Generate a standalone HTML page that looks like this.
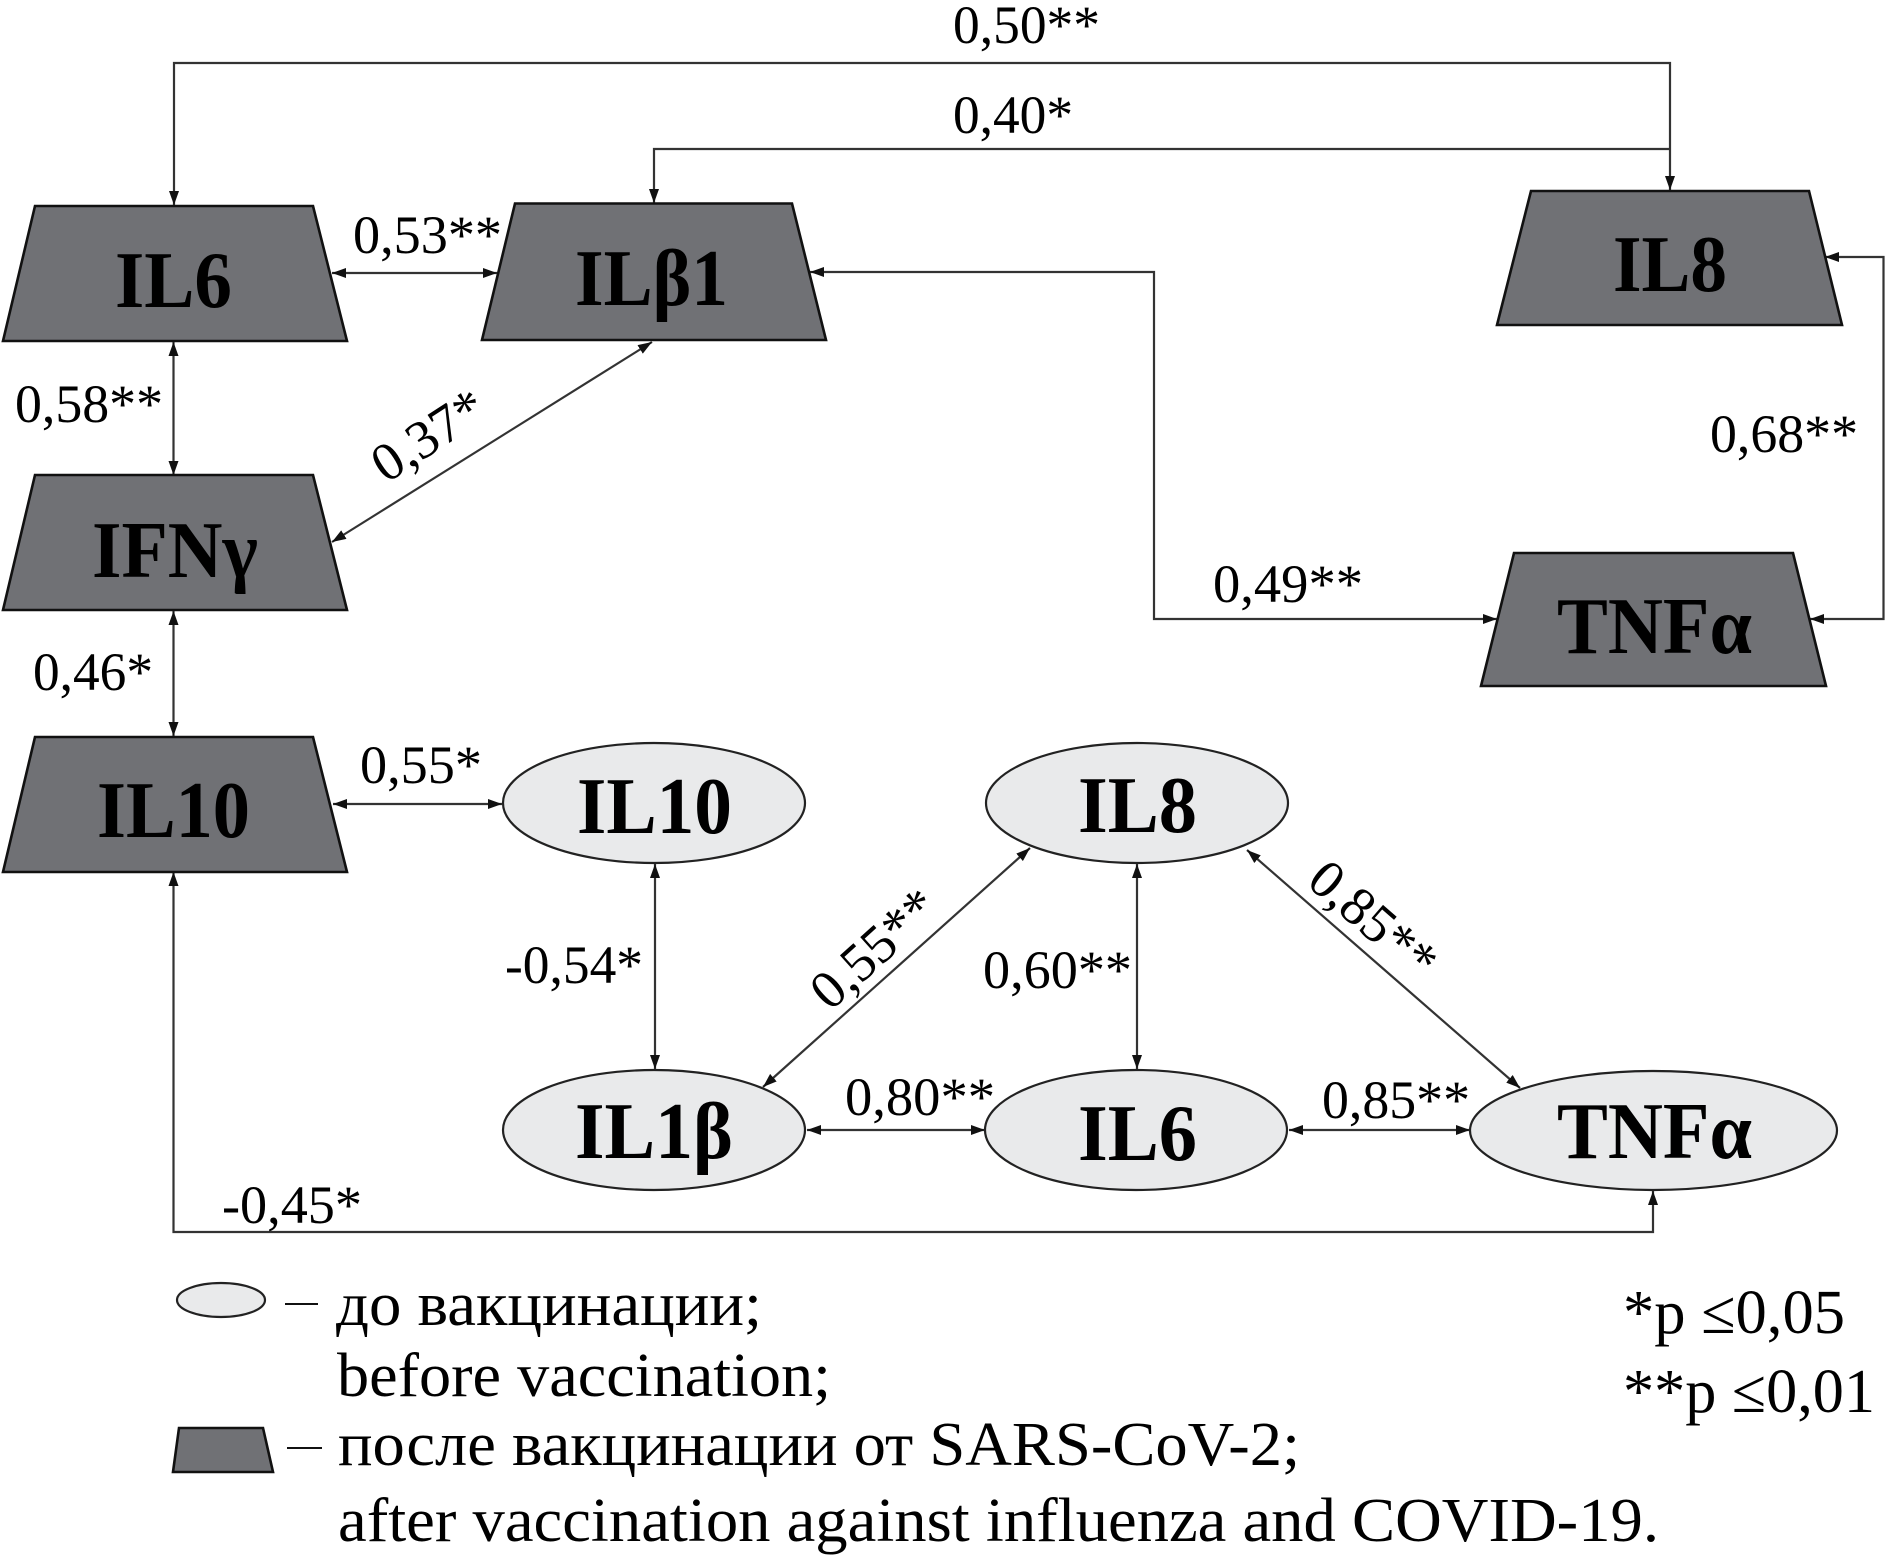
<!DOCTYPE html>
<html>
<head>
<meta charset="utf-8">
<style>
html,body{margin:0;padding:0;background:#fff;}
svg{display:block;}
text{font-family:"Liberation Serif",serif;fill:#000;}
.n{font-weight:bold;font-size:80px;}
.l{font-size:54px;}
.g{font-size:62px;}
.c{fill:none;stroke:#333;stroke-width:2.2;}
.t{fill:#707175;stroke:#111;stroke-width:2.6;}
.e{fill:#e9eaeb;stroke:#222;stroke-width:2.2;}
</style>
</head>
<body>
<svg width="1890" height="1560" viewBox="0 0 1890 1560" xmlns="http://www.w3.org/2000/svg">
<defs>
<marker id="a" markerUnits="userSpaceOnUse" markerWidth="14" markerHeight="10" refX="14" refY="5" orient="auto-start-reverse">
<path d="M0,0 L14,5 L0,10 z" fill="#111"/>
</marker>
</defs>

<!-- connectors -->
<polyline class="c" points="174,205 174,63 1670,63 1670,190" marker-start="url(#a)" marker-end="url(#a)"/>
<polyline class="c" points="654,203 654,149 1670,149"  marker-start="url(#a)"/>
<line class="c" x1="332" y1="273" x2="497" y2="273" marker-start="url(#a)" marker-end="url(#a)"/>
<polyline class="c" points="810,272 1154,272 1154,619 1497,619" marker-start="url(#a)" marker-end="url(#a)"/>
<polyline class="c" points="1825,257 1883.5,257 1883.5,619 1810,619" marker-start="url(#a)" marker-end="url(#a)"/>
<line class="c" x1="173.5" y1="342" x2="173.5" y2="475" marker-start="url(#a)" marker-end="url(#a)"/>
<line class="c" x1="173.5" y1="611" x2="173.5" y2="736" marker-start="url(#a)" marker-end="url(#a)"/>
<line class="c" x1="652" y1="342" x2="332" y2="542" marker-start="url(#a)" marker-end="url(#a)"/>
<line class="c" x1="333" y1="804" x2="502" y2="804" marker-start="url(#a)" marker-end="url(#a)"/>
<polyline class="c" points="173.5,872 173.5,1232 1653,1232 1653,1191" marker-start="url(#a)" marker-end="url(#a)"/>
<line class="c" x1="655" y1="864" x2="655" y2="1069" marker-start="url(#a)" marker-end="url(#a)"/>
<line class="c" x1="807" y1="1130" x2="985" y2="1130" marker-start="url(#a)" marker-end="url(#a)"/>
<line class="c" x1="763" y1="1087" x2="1030" y2="848" marker-start="url(#a)" marker-end="url(#a)"/>
<line class="c" x1="1137" y1="864" x2="1137" y2="1069" marker-start="url(#a)" marker-end="url(#a)"/>
<line class="c" x1="1247" y1="850" x2="1520" y2="1088" marker-start="url(#a)" marker-end="url(#a)"/>
<line class="c" x1="1289" y1="1130" x2="1470" y2="1130" marker-start="url(#a)" marker-end="url(#a)"/>

<!-- trapezoids -->
<polygon class="t" points="35,206 313,206 347,341 3,341"/>
<polygon class="t" points="515,203.5 792,203.5 826,340 482,340"/>
<polygon class="t" points="1531,191 1809,191 1842,325 1497,325"/>
<polygon class="t" points="35,475 313,475 347,610 3,610"/>
<polygon class="t" points="35,737 313,737 347,872 3,872"/>
<polygon class="t" points="1514,553 1793,553 1826,686 1481,686"/>

<!-- ellipses -->
<ellipse class="e" cx="654" cy="803" rx="151" ry="60"/>
<ellipse class="e" cx="1137" cy="803" rx="151" ry="60"/>
<ellipse class="e" cx="654" cy="1130" rx="151" ry="60"/>
<ellipse class="e" cx="1136" cy="1130" rx="151" ry="60"/>
<ellipse class="e" cx="1653.5" cy="1130.5" rx="183.5" ry="59.5"/>

<!-- node labels -->
<text class="n" x="115" y="307" textLength="117" lengthAdjust="spacingAndGlyphs">IL6</text>
<text class="n" x="575" y="305" textLength="153" lengthAdjust="spacingAndGlyphs">ILβ1</text>
<text class="n" x="1613" y="291" textLength="114" lengthAdjust="spacingAndGlyphs">IL8</text>
<text class="n" x="92" y="577" textLength="166" lengthAdjust="spacingAndGlyphs">IFNγ</text>
<text class="n" x="97" y="837" textLength="153" lengthAdjust="spacingAndGlyphs">IL10</text>
<text class="n" x="1557" y="653" textLength="195" lengthAdjust="spacingAndGlyphs">TNFα</text>
<text class="n" x="577" y="833" textLength="155" lengthAdjust="spacingAndGlyphs">IL10</text>
<text class="n" x="1078" y="832" textLength="119" lengthAdjust="spacingAndGlyphs">IL8</text>
<text class="n" x="575" y="1158" textLength="158" lengthAdjust="spacingAndGlyphs">IL1β</text>
<text class="n" x="1078" y="1160" textLength="119" lengthAdjust="spacingAndGlyphs">IL6</text>
<text class="n" x="1557" y="1158" textLength="195" lengthAdjust="spacingAndGlyphs">TNFα</text>

<!-- connector labels -->
<text class="l" x="953" y="43" textLength="147" lengthAdjust="spacingAndGlyphs">0,50**</text>
<text class="l" x="953" y="133" textLength="120" lengthAdjust="spacingAndGlyphs">0,40*</text>
<text class="l" x="353" y="253" textLength="149" lengthAdjust="spacingAndGlyphs">0,53**</text>
<text class="l" x="15" y="422" textLength="148" lengthAdjust="spacingAndGlyphs">0,58**</text>
<text class="l" transform="translate(386,484) rotate(-33)" x="0" y="0" textLength="124" lengthAdjust="spacingAndGlyphs">0,37*</text>
<text class="l" x="33" y="690" textLength="120" lengthAdjust="spacingAndGlyphs">0,46*</text>
<text class="l" x="1213" y="602" textLength="150" lengthAdjust="spacingAndGlyphs">0,49**</text>
<text class="l" x="1710" y="452" textLength="148" lengthAdjust="spacingAndGlyphs">0,68**</text>
<text class="l" x="360" y="783" textLength="122" lengthAdjust="spacingAndGlyphs">0,55*</text>
<text class="l" x="505" y="983" textLength="138" lengthAdjust="spacingAndGlyphs">-0,54*</text>
<text class="l" transform="translate(830,1012) rotate(-42)" x="0" y="0" textLength="150" lengthAdjust="spacingAndGlyphs">0,55**</text>
<text class="l" x="983" y="988" textLength="149" lengthAdjust="spacingAndGlyphs">0,60**</text>
<text class="l" transform="translate(1305,884) rotate(41)" x="0" y="0" textLength="150" lengthAdjust="spacingAndGlyphs">0,85**</text>
<text class="l" x="845" y="1115" textLength="150" lengthAdjust="spacingAndGlyphs">0,80**</text>
<text class="l" x="1322" y="1118" textLength="148" lengthAdjust="spacingAndGlyphs">0,85**</text>
<text class="l" x="222" y="1223" textLength="140" lengthAdjust="spacingAndGlyphs">-0,45*</text>

<!-- significance -->
<text class="g" x="1623" y="1333" textLength="222" lengthAdjust="spacingAndGlyphs">*p ≤0,05</text>
<text class="g" x="1623" y="1412" textLength="252" lengthAdjust="spacingAndGlyphs">**p ≤0,01</text>

<!-- legend -->
<ellipse class="e" cx="221" cy="1300" rx="44" ry="17"/>
<line x1="285" y1="1304" x2="318" y2="1304" stroke="#111" stroke-width="2"/>
<polygon class="t" points="179,1428 263,1428 273,1472 173,1472"/>
<line x1="287" y1="1448" x2="322" y2="1448" stroke="#111" stroke-width="2"/>
<text class="g" x="336" y="1325" textLength="426" lengthAdjust="spacingAndGlyphs">до вакцинации;</text>
<text class="g" x="337" y="1396" textLength="494" lengthAdjust="spacingAndGlyphs">before vaccination;</text>
<text class="g" x="338" y="1465" textLength="962" lengthAdjust="spacingAndGlyphs">после вакцинации от SARS-CoV-2;</text>
<text class="g" x="338" y="1541" textLength="1321" lengthAdjust="spacingAndGlyphs">after vaccination against influenza and COVID-19.</text>
</svg>
</body>
</html>
